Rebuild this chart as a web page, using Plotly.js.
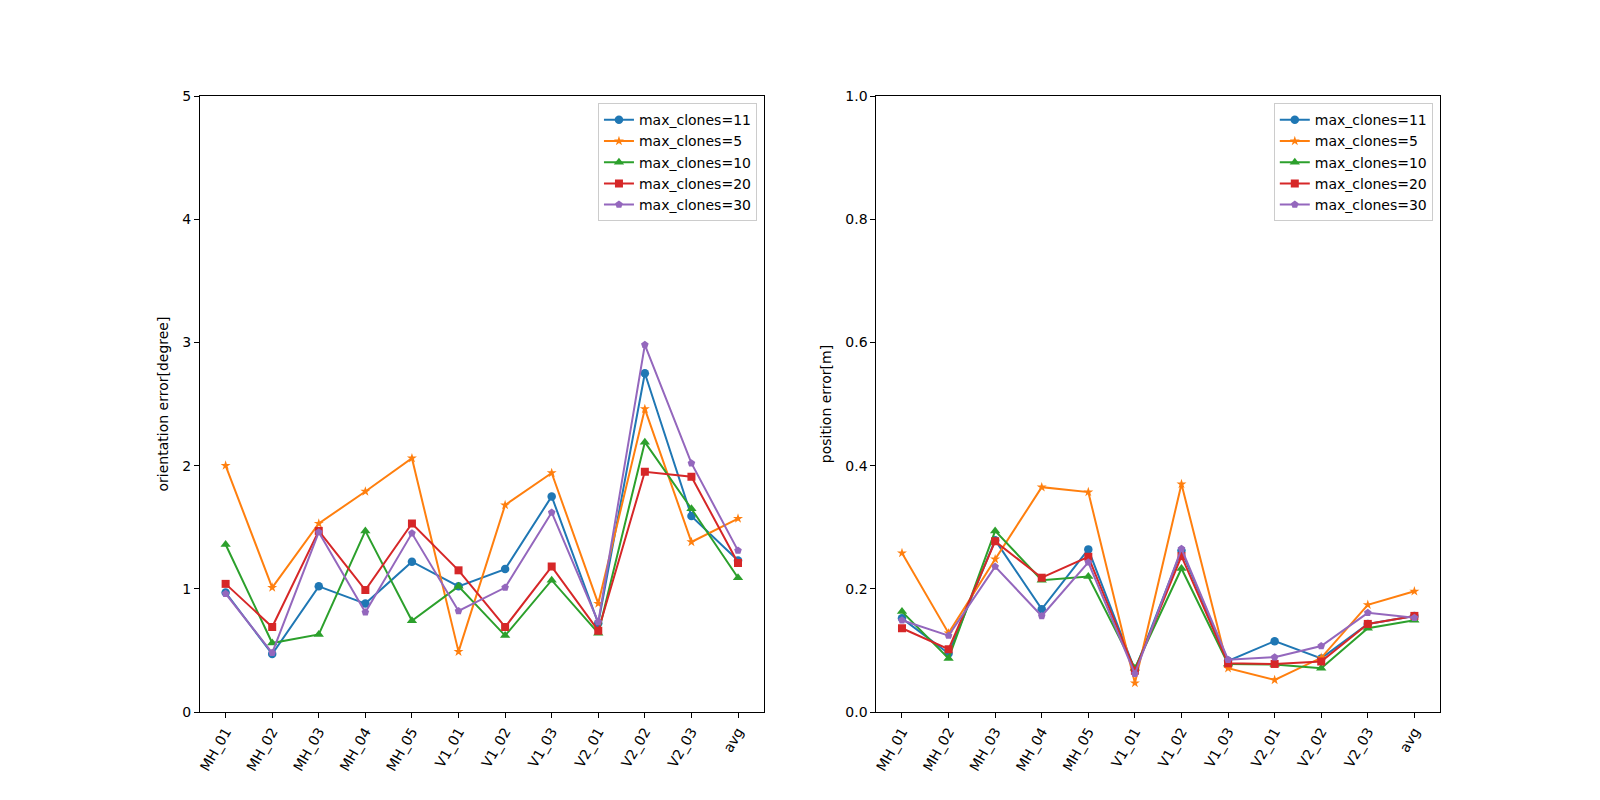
<!DOCTYPE html>
<html>
<head>
<meta charset="utf-8">
<script src="https://cdn.plot.ly/plotly-3.0.1.min.js"></script>
<style>html,body{margin:0;padding:0;background:#fff;}#chart{width:1600px;height:800px;}</style>
</head>
<body>
<div id="chart"></div>
<script>
const categories = ["MH_01","MH_02","MH_03","MH_04","MH_05","V1_01","V1_02","V1_03","V2_01","V2_02","V2_03","avg"];
const seriesNames = ["max_clones=11","max_clones=5","max_clones=10","max_clones=20","max_clones=30"];

// orientation error [degree]
const orient_11 = [0.97,0.47,1.02,0.88,1.22,1.02,1.16,1.75,0.72,2.75,1.59,1.23];
const orient_5  = [2.00,1.01,1.53,1.79,2.06,0.49,1.68,1.94,0.88,2.46,1.38,1.57];
const orient_10 = [1.36,0.56,0.63,1.47,0.74,1.02,0.62,1.07,0.64,2.19,1.65,1.09];
const orient_20 = [1.04,0.69,1.47,0.99,1.53,1.15,0.69,1.18,0.66,1.95,1.91,1.21];
const orient_30 = [0.96,0.48,1.46,0.81,1.45,0.82,1.01,1.62,0.73,2.98,2.02,1.31];

// position error [m]
const pos_11 = [0.152,0.095,0.279,0.167,0.264,0.068,0.262,0.083,0.115,0.087,0.143,0.156];
const pos_5  = [0.258,0.128,0.248,0.365,0.357,0.047,0.370,0.071,0.052,0.088,0.174,0.196];
const pos_10 = [0.163,0.087,0.294,0.214,0.220,0.071,0.233,0.078,0.077,0.071,0.136,0.149];
const pos_20 = [0.136,0.102,0.277,0.218,0.252,0.067,0.253,0.079,0.078,0.082,0.143,0.156];
const pos_30 = [0.149,0.124,0.236,0.156,0.243,0.062,0.265,0.085,0.089,0.107,0.161,0.153];

const colors = ["#1f77b4","#ff7f0e","#2ca02c","#d62728","#9467bd"];
const symbols = ["circle","star","triangle-up","square","pentagon"];
const sizes = [8.5,7.5,9,8,8];

const orientData = [orient_11, orient_5, orient_10, orient_20, orient_30];
const posData = [pos_11, pos_5, pos_10, pos_20, pos_30];

const traces = [];
orientData.forEach((d,i)=>{
  traces.push({x:categories,y:d,name:seriesNames[i],type:"scatter",mode:"lines+markers",
    xaxis:"x",yaxis:"y",legend:"legend",
    line:{color:colors[i],width:2},marker:{color:colors[i],symbol:symbols[i],size:sizes[i]}});
});
posData.forEach((d,i)=>{
  traces.push({x:categories,y:d,name:seriesNames[i],type:"scatter",mode:"lines+markers",
    xaxis:"x2",yaxis:"y2",legend:"legend2",
    line:{color:colors[i],width:2},marker:{color:colors[i],symbol:symbols[i],size:sizes[i]}});
});

const axBase = {showline:true,linecolor:"#000",linewidth:1,mirror:true,showgrid:false,zeroline:false,
  ticks:"outside",ticklen:5,tickwidth:1,tickcolor:"#000",automargin:false,
  tickfont:{family:"DejaVu Sans",size:14,color:"#000"}};

const legBase = {bgcolor:"rgba(255,255,255,0.8)",bordercolor:"#cccccc",borderwidth:1,itemwidth:30,
  font:{family:"DejaVu Sans",size:14,color:"#000"},xanchor:"right",yanchor:"top",tracegroupgap:0};

const layout = {
  width:1600,height:800,margin:{l:0,r:0,t:0,b:0},
  paper_bgcolor:"#fff",plot_bgcolor:"#fff",
  font:{family:"DejaVu Sans",color:"#000"},
  xaxis:Object.assign({},axBase,{domain:[0.125,0.47727],anchor:"y",type:"category",range:[-0.55,11.55],tickangle:-60}),
  yaxis:Object.assign({},axBase,{domain:[0.11,0.88],anchor:"x",range:[0,5],tickvals:[0,1,2,3,4,5],
    title:{text:"orientation error[degree]",font:{family:"DejaVu Sans",size:14,color:"#000"},standoff:10}}),
  xaxis2:Object.assign({},axBase,{domain:[0.54773,0.9],anchor:"y2",type:"category",range:[-0.55,11.55],tickangle:-60}),
  yaxis2:Object.assign({},axBase,{domain:[0.11,0.88],anchor:"x2",range:[0,1],tickvals:[0,0.2,0.4,0.6,0.8,1.0],tickformat:".1f",
    title:{text:"position error[m]",font:{family:"DejaVu Sans",size:14,color:"#000"},standoff:10}}),
  legend:Object.assign({},legBase,{x:0.4731,y:0.871}),
  legend2:Object.assign({},legBase,{x:0.8955,y:0.871}),
  showlegend:true
};

Plotly.newPlot("chart",traces,layout,{displayModeBar:false,staticPlot:true});
</script>
</body>
</html>
